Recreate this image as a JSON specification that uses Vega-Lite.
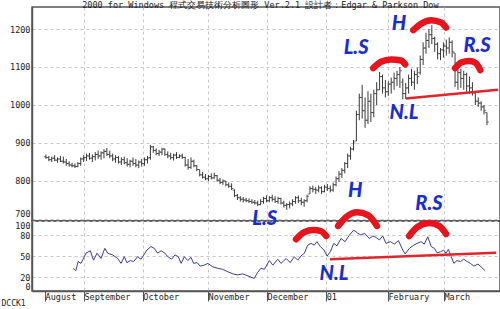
{
"$schema": "https://vega.github.io/schema/vega-lite/v6.json",
"background": "white",
"padding": 0,
"spacing": 0,
"bounds": "flush",
"title": {"text": "2000 for Windows 程式交易技術分析圖形       Ver.2.1    設計者：Edgar & Parkson Dow", "anchor": "start", "frame": "bounds", "dx": 82, "fontSize": 8.5, "font": "DejaVu Sans Mono", "fontWeight": "normal", "color": "#222", "offset": -3},
"config": {"view": {"stroke": "#555", "strokeWidth": 1.5}, "font": "DejaVu Sans Mono", "concat": {"spacing": 0}},
"resolve": {"scale": {"x": "independent", "y": "independent"}},
"datasets": {
"ohlc": [
{"i":0,"o":864,"h":870,"l":858,"c":862},{"i":1,"o":862,"h":866,"l":852,"c":856},{"i":2,"o":856,"h":864,"l":850,"c":860},{"i":3,"o":860,"h":868,"l":852,"c":855},{"i":4,"o":855,"h":862,"l":848,"c":858},
{"i":5,"o":858,"h":866,"l":850,"c":852},{"i":6,"o":852,"h":864,"l":846,"c":850},{"i":7,"o":850,"h":858,"l":840,"c":846},{"i":8,"o":846,"h":852,"l":838,"c":842},{"i":9,"o":842,"h":848,"l":836,"c":840},
{"i":10,"o":840,"h":846,"l":834,"c":838},{"i":11,"o":838,"h":850,"l":836,"c":846},{"i":12,"o":846,"h":862,"l":840,"c":858},{"i":13,"o":858,"h":868,"l":850,"c":862},{"i":14,"o":862,"h":872,"l":852,"c":866},
{"i":15,"o":866,"h":874,"l":856,"c":860},{"i":16,"o":860,"h":870,"l":850,"c":864},{"i":17,"o":864,"h":876,"l":854,"c":870},{"i":18,"o":870,"h":880,"l":858,"c":866},{"i":19,"o":866,"h":878,"l":856,"c":874},
{"i":20,"o":874,"h":884,"l":860,"c":878},{"i":21,"o":878,"h":887,"l":866,"c":870},{"i":22,"o":870,"h":880,"l":860,"c":866},{"i":23,"o":866,"h":872,"l":852,"c":858},{"i":24,"o":858,"h":868,"l":848,"c":862},
{"i":25,"o":862,"h":866,"l":846,"c":850},{"i":26,"o":850,"h":862,"l":842,"c":856},{"i":27,"o":856,"h":864,"l":844,"c":848},{"i":28,"o":848,"h":860,"l":838,"c":844},{"i":29,"o":844,"h":856,"l":836,"c":852},
{"i":30,"o":852,"h":862,"l":840,"c":846},{"i":31,"o":846,"h":858,"l":836,"c":842},{"i":32,"o":842,"h":854,"l":834,"c":850},{"i":33,"o":850,"h":858,"l":838,"c":846},{"i":34,"o":846,"h":862,"l":840,"c":856},
{"i":35,"o":856,"h":866,"l":846,"c":860},{"i":36,"o":862,"h":895,"l":856,"c":890},{"i":37,"o":890,"h":892,"l":874,"c":880},{"i":38,"o":880,"h":886,"l":868,"c":872},{"i":39,"o":872,"h":882,"l":866,"c":876},
{"i":40,"o":876,"h":887,"l":868,"c":884},{"i":41,"o":884,"h":886,"l":866,"c":870},{"i":42,"o":870,"h":878,"l":860,"c":866},{"i":43,"o":866,"h":874,"l":856,"c":862},{"i":44,"o":862,"h":872,"l":854,"c":868},
{"i":45,"o":868,"h":876,"l":858,"c":862},{"i":46,"o":862,"h":870,"l":860,"c":866},{"i":47,"o":866,"h":872,"l":858,"c":862},{"i":48,"o":862,"h":864,"l":838,"c":842},{"i":49,"o":842,"h":858,"l":830,"c":836},
{"i":50,"o":836,"h":862,"l":832,"c":852},{"i":51,"o":852,"h":856,"l":836,"c":840},{"i":52,"o":840,"h":842,"l":826,"c":830},{"i":53,"o":830,"h":830,"l":812,"c":816},{"i":54,"o":816,"h":824,"l":806,"c":810},
{"i":55,"o":810,"h":818,"l":802,"c":806},{"i":56,"o":806,"h":816,"l":800,"c":812},{"i":57,"o":812,"h":820,"l":804,"c":808},{"i":58,"o":808,"h":822,"l":806,"c":814},{"i":59,"o":814,"h":816,"l":798,"c":802},
{"i":60,"o":802,"h":808,"l":792,"c":796},{"i":61,"o":796,"h":804,"l":790,"c":800},{"i":62,"o":800,"h":800,"l":786,"c":790},{"i":63,"o":790,"h":796,"l":782,"c":786},{"i":64,"o":786,"h":794,"l":776,"c":780},
{"i":65,"o":776,"h":778,"l":758,"c":762},{"i":66,"o":762,"h":766,"l":750,"c":756},{"i":67,"o":756,"h":760,"l":746,"c":752},{"i":68,"o":752,"h":758,"l":744,"c":750},{"i":69,"o":750,"h":756,"l":744,"c":748},
{"i":70,"o":748,"h":754,"l":742,"c":746},{"i":71,"o":746,"h":752,"l":740,"c":744},{"i":72,"o":744,"h":750,"l":738,"c":742},{"i":73,"o":742,"h":748,"l":734,"c":738},{"i":74,"o":738,"h":752,"l":736,"c":746},
{"i":75,"o":746,"h":758,"l":740,"c":754},{"i":76,"o":754,"h":762,"l":744,"c":748},{"i":77,"o":748,"h":760,"l":744,"c":756},{"i":78,"o":756,"h":764,"l":746,"c":752},{"i":79,"o":752,"h":760,"l":742,"c":746},
{"i":80,"o":746,"h":758,"l":740,"c":754},{"i":81,"o":754,"h":756,"l":738,"c":742},{"i":82,"o":742,"h":748,"l":730,"c":736},{"i":83,"o":736,"h":742,"l":724,"c":738},{"i":84,"o":738,"h":746,"l":728,"c":740},
{"i":85,"o":740,"h":752,"l":734,"c":746},{"i":86,"o":746,"h":760,"l":740,"c":756},{"i":87,"o":756,"h":762,"l":742,"c":748},{"i":88,"o":748,"h":756,"l":736,"c":744},{"i":89,"o":744,"h":752,"l":732,"c":748},
{"i":90,"o":748,"h":764,"l":744,"c":760},{"i":91,"o":766,"h":786,"l":766,"c":780},{"i":92,"o":780,"h":788,"l":770,"c":778},{"i":93,"o":778,"h":784,"l":766,"c":776},{"i":94,"o":776,"h":788,"l":770,"c":782},
{"i":95,"o":782,"h":786,"l":766,"c":772},{"i":96,"o":772,"h":790,"l":770,"c":784},{"i":97,"o":784,"h":792,"l":774,"c":780},{"i":98,"o":780,"h":788,"l":770,"c":776},{"i":99,"o":776,"h":796,"l":772,"c":790},
{"i":100,"o":790,"h":812,"l":786,"c":806},{"i":101,"o":806,"h":826,"l":798,"c":818},{"i":102,"o":818,"h":834,"l":808,"c":828},{"i":103,"o":828,"h":850,"l":820,"c":846},{"i":104,"o":846,"h":872,"l":834,"c":866},
{"i":105,"o":866,"h":890,"l":856,"c":884},{"i":106,"o":884,"h":908,"l":880,"c":900},{"i":107,"o":905,"h":985,"l":905,"c":975},{"i":108,"o":975,"h":1030,"l":960,"c":1020},{"i":109,"o":1020,"h":1053,"l":964,"c":985},
{"i":110,"o":985,"h":1020,"l":940,"c":960},{"i":111,"o":960,"h":1036,"l":950,"c":1010},{"i":112,"o":1010,"h":1030,"l":955,"c":980},{"i":113,"o":980,"h":1040,"l":968,"c":1030},{"i":114,"o":1030,"h":1060,"l":1000,"c":1040},
{"i":115,"o":1040,"h":1087,"l":1040,"c":1075},{"i":116,"o":1075,"h":1080,"l":1030,"c":1045},{"i":117,"o":1045,"h":1066,"l":1020,"c":1035},{"i":118,"o":1035,"h":1062,"l":1024,"c":1055},{"i":119,"o":1055,"h":1072,"l":1030,"c":1060},
{"i":120,"o":1060,"h":1085,"l":1040,"c":1070},{"i":121,"o":1070,"h":1090,"l":1050,"c":1080},{"i":122,"o":1080,"h":1100,"l":1045,"c":1090},{"i":123,"o":1060,"h":1070,"l":1015,"c":1030},{"i":124,"o":1030,"h":1058,"l":1016,"c":1045},
{"i":125,"o":1045,"h":1080,"l":1030,"c":1070},{"i":126,"o":1070,"h":1095,"l":1050,"c":1060},{"i":127,"o":1060,"h":1090,"l":1040,"c":1080},{"i":128,"o":1080,"h":1098,"l":1055,"c":1075},{"i":129,"o":1085,"h":1130,"l":1080,"c":1120},
{"i":130,"o":1120,"h":1165,"l":1105,"c":1150},{"i":131,"o":1150,"h":1190,"l":1135,"c":1170},{"i":132,"o":1170,"h":1200,"l":1150,"c":1185},{"i":133,"o":1185,"h":1210,"l":1160,"c":1175},{"i":134,"o":1175,"h":1180,"l":1140,"c":1160},
{"i":135,"o":1160,"h":1165,"l":1120,"c":1135},{"i":136,"o":1135,"h":1150,"l":1118,"c":1145},{"i":137,"o":1145,"h":1165,"l":1125,"c":1155},{"i":138,"o":1155,"h":1172,"l":1130,"c":1150},{"i":139,"o":1150,"h":1178,"l":1135,"c":1165},
{"i":140,"o":1165,"h":1170,"l":1125,"c":1140},{"i":141,"o":1137,"h":1137,"l":1047,"c":1060},{"i":142,"o":1060,"h":1097,"l":1040,"c":1085},{"i":143,"o":1085,"h":1095,"l":1045,"c":1070},{"i":144,"o":1070,"h":1090,"l":1040,"c":1080},
{"i":145,"o":1080,"h":1085,"l":1035,"c":1050},{"i":146,"o":1050,"h":1075,"l":1030,"c":1045},{"i":147,"o":1045,"h":1060,"l":1025,"c":1035},{"i":148,"o":1031,"h":1031,"l":1000,"c":1010},{"i":149,"o":1010,"h":1020,"l":995,"c":1005},
{"i":150,"o":1005,"h":1010,"l":985,"c":995},{"i":151,"o":995,"h":1000,"l":975,"c":985},{"i":152,"o":980,"h":980,"l":947,"c":955}
],
"ind": [
{"i":9.4,"v":32},{"i":10.3,"v":29},{"i":11.1,"v":42},{"i":12.1,"v":39.5},{"i":13.8,"v":54},{"i":15.3,"v":57.5},{"i":16.4,"v":44},{"i":17.6,"v":54},{"i":19.0,"v":46.5},{"i":20.3,"v":61},
{"i":21.3,"v":54},{"i":23.0,"v":51.5},{"i":24.7,"v":46.5},{"i":25.9,"v":39.5},{"i":27.0,"v":49},{"i":27.9,"v":40.5},{"i":29.1,"v":43.5},{"i":30.2,"v":42},{"i":31.6,"v":49},{"i":32.8,"v":45.5},
{"i":34.8,"v":58.5},{"i":36.2,"v":63.5},{"i":37.3,"v":61},{"i":38.5,"v":54},{"i":39.7,"v":57.5},{"i":41.0,"v":54},{"i":42.0,"v":49},{"i":43.3,"v":45.5},{"i":44.5,"v":51.5},{"i":45.6,"v":49},
{"i":46.6,"v":39.5},{"i":47.7,"v":49},{"i":48.9,"v":43.5},{"i":50.0,"v":48},{"i":50.9,"v":39.5},{"i":52.1,"v":40.5},{"i":53.2,"v":35.5},{"i":54.6,"v":37},{"i":55.8,"v":39.5},{"i":57.5,"v":34.5},
{"i":59.2,"v":32.5},{"i":60.9,"v":31},{"i":62.7,"v":27.5},{"i":64.4,"v":24.5},{"i":66.1,"v":23},{"i":67.8,"v":24.5},{"i":69.6,"v":21.5},{"i":71.8,"v":18},{"i":72.8,"v":25.5},{"i":74.1,"v":32.5},
{"i":75.3,"v":31},{"i":77.0,"v":43.5},{"i":78.2,"v":37},{"i":79.9,"v":45.5},{"i":81.0,"v":39.5},{"i":82.8,"v":46.5},{"i":84.2,"v":40.5},{"i":85.6,"v":49},{"i":86.8,"v":44},{"i":87.9,"v":50},
{"i":89.1,"v":54},{"i":90.2,"v":65.5},{"i":91.4,"v":68},{"i":92.5,"v":65.5},{"i":93.4,"v":70.5},{"i":94.6,"v":63.5},{"i":95.8,"v":58.5},{"i":96.9,"v":50},{"i":98.0,"v":56},{"i":99.2,"v":68},
{"i":100.3,"v":64.5},{"i":101.7,"v":75},{"i":103.1,"v":70.5},{"i":104.6,"v":80},{"i":106.1,"v":87},{"i":107.5,"v":82.5},{"i":108.6,"v":80},{"i":109.8,"v":82.5},{"i":111.5,"v":75},{"i":112.7,"v":78.5},
{"i":113.8,"v":76.5},{"i":114.9,"v":73},{"i":116.1,"v":78.5},{"i":117.2,"v":68},{"i":118.7,"v":70.5},{"i":120.1,"v":67},{"i":121.5,"v":72},{"i":123.0,"v":58.5},{"i":123.8,"v":53},{"i":125.3,"v":61},
{"i":126.8,"v":65.5},{"i":127.9,"v":68},{"i":129.3,"v":70.5},{"i":130.4,"v":67},{"i":131.6,"v":77.5},{"i":132.8,"v":63.5},{"i":133.9,"v":61},{"i":134.8,"v":54.5},{"i":136.0,"v":56},{"i":137.1,"v":58.5},
{"i":137.9,"v":54},{"i":138.7,"v":59.5},{"i":139.7,"v":49},{"i":140.6,"v":39.5},{"i":141.7,"v":43.5},{"i":142.9,"v":42},{"i":144.0,"v":45.5},{"i":145.2,"v":42},{"i":146.3,"v":39.5},{"i":147.5,"v":35.5},
{"i":148.9,"v":38.5},{"i":150.0,"v":34.5},{"i":151.4,"v":29}
],
"arcsTop": [
{"id":"LS","i":112.8,"v":1097},{"id":"LS","i":115.5,"v":1114},{"id":"LS","i":119.0,"v":1120},{"id":"LS","i":122.4,"v":1117},{"id":"LS","i":123.8,"v":1107},
{"id":"H","i":126.6,"v":1197},{"id":"H","i":129.3,"v":1214},{"id":"H","i":132.8,"v":1223},{"id":"H","i":136.2,"v":1217},{"id":"H","i":137.9,"v":1204},
{"id":"RS","i":141.0,"v":1097},{"id":"RS","i":143.1,"v":1112},{"id":"RS","i":145.9,"v":1116},{"id":"RS","i":148.0,"v":1111},{"id":"RS","i":149.7,"v":1092}
],
"neckTop": [{"i":124.1,"v":1017},{"i":155.8,"v":1040}],
"arcsBottom": [
{"id":"LS","i":86.2,"v":74},{"id":"LS","i":89.0,"v":84},{"id":"LS","i":92.1,"v":87},{"id":"LS","i":94.8,"v":85.5},{"id":"LS","i":96.6,"v":78.5},
{"id":"H","i":100.7,"v":93},{"id":"H","i":103.4,"v":105.5},{"id":"H","i":107.2,"v":112.5},{"id":"H","i":111.0,"v":108.5},{"id":"H","i":114.1,"v":93},
{"id":"RS","i":125.2,"v":78.5},{"id":"RS","i":127.9,"v":91},{"id":"RS","i":132.1,"v":97},{"id":"RS","i":135.5,"v":93},{"id":"RS","i":137.9,"v":81.5}
],
"neckBottom": [{"i":97.9,"v":45.5},{"i":155.2,"v":54.5}],
"labelsTop": [
{"label":"L.S","i":106.9,"v":1150},{"label":"H","i":121.7,"v":1213},{"label":"R.S","i":148.6,"v":1155},{"label":"N.L","i":123.4,"v":979},
{"label":"H","i":106.6,"v":774},{"label":"R.S","i":132,"v":739}
],
"labelsBottom": [
{"label":"L.S","i":75.4,"v":103},{"label":"N.L","i":99.3,"v":24}
]
},
"vconcat": [
{
"width": 468, "height": 214,
"encoding": {
"x": {"field": "i", "type": "quantitative", "scale": {"domain": [-4.8, 156.5], "nice": false, "zero": false},
 "axis": {"values": [13.1, 33.4, 55.9, 76.2, 96.6, 117.9, 137.2], "labels": false, "ticks": false, "domain": false, "grid": true, "gridColor": "#c8c8c8", "gridDash": [3, 3], "title": null, "minExtent": 0, "maxExtent": 0}}
},
"layer": [
{"data": {"name": "ohlc"}, "mark": {"type": "rule", "color": "#222", "strokeWidth": 0.9},
 "encoding": {"y": {"field": "l", "type": "quantitative", "scale": {"domain": [694.7, 1257.9], "nice": false, "zero": false},
   "axis": {"values": [700, 750, 800, 850, 900, 950, 1000, 1050, 1100, 1150, 1200], "format": "d", "title": null, "grid": true, "gridColor": "#c8c8c8", "gridDash": [3, 3], "ticks": false, "labelPadding": 2, "labelOverlap": false, "labelBaseline": {"condition": {"test": "datum.value == 700", "value": "bottom"}, "value": "middle"}, "labelFontSize": 8.5, "labelFont": "DejaVu Sans Mono", "labelColor": "#222", "domainColor": "#555", "domainWidth": 1.5, "minExtent": 31, "maxExtent": 31}},
  "y2": {"field": "h"}}},
{"data": {"name": "ohlc"}, "mark": {"type": "tick", "orient": "horizontal", "size": 2, "thickness": 0.9, "color": "#222", "xOffset": -1},
 "encoding": {"y": {"field": "o", "type": "quantitative"}}},
{"data": {"name": "ohlc"}, "mark": {"type": "tick", "orient": "horizontal", "size": 2, "thickness": 0.9, "color": "#222", "xOffset": 1},
 "encoding": {"y": {"field": "c", "type": "quantitative"}}},
{"data": {"name": "neckTop"}, "mark": {"type": "line", "color": "#e0252b", "strokeWidth": 2.5},
 "encoding": {"y": {"field": "v", "type": "quantitative"}}},
{"data": {"name": "arcsTop"}, "mark": {"type": "line", "color": "#e8141b", "strokeWidth": 6.5, "strokeCap": "round", "interpolate": "monotone"},
 "encoding": {"y": {"field": "v", "type": "quantitative"}, "detail": {"field": "id"}}},
{"data": {"name": "labelsTop"}, "mark": {"type": "text", "color": "#1a2ed0", "font": "Lato", "fontWeight": 900, "fontStyle": "italic", "fontSize": 20},
 "encoding": {"y": {"field": "v", "type": "quantitative"}, "text": {"field": "label"}}}
]
},
{
"width": 468, "height": 70,
"encoding": {
"x": {"field": "i", "type": "quantitative", "scale": {"domain": [-4.8, 156.5], "nice": false, "zero": false},
 "axis": {"values": [-0.3, 13.1, 33.4, 55.9, 76.2, 96.6, 117.9, 137.2],
  "labelExpr": "datum.value < 5 ? 'August' : datum.value < 20 ? 'September' : datum.value < 40 ? 'October' : datum.value < 60 ? 'November' : datum.value < 80 ? 'December' : datum.value < 100 ? '01' : datum.value < 120 ? 'February' : 'March'",
  "grid": true, "gridColor": {"condition": {"test": "datum.value < 5", "value": "transparent"}, "value": "#c8c8c8"}, "gridDash": [3, 3],
  "tickSize": 10, "tickColor": "#555", "labelAlign": "left", "labelBaseline": "top", "labelPadding": -9, "labelDx": 2, "labelOverlap": false, "labelFlush": false, "labelBound": false,
  "labelFontSize": 8.5, "labelFont": "DejaVu Sans Mono", "labelColor": "#222", "domainColor": "#555", "domainWidth": 1.5,
  "title": "DCCK1", "titleX": -31, "titleY": 8, "titleAlign": "left", "titleBaseline": "top", "titleFontSize": 8, "titleFont": "DejaVu Sans Mono", "titleFontWeight": "normal", "titleColor": "#222"}},
"y": {"field": "v", "type": "quantitative", "scale": {"domain": [0, 100], "nice": false, "zero": false},
 "axis": {"values": [0, 20, 50, 80, 100], "title": null, "grid": true, "gridColor": "#c8c8c8", "gridDash": [3, 3], "ticks": false, "labelPadding": 2, "labelOverlap": false, "labelBaseline": {"condition": [{"test": "datum.value == 100", "value": "top"}, {"test": "datum.value == 0", "value": "bottom"}], "value": "middle"}, "labelFontSize": 8.5, "labelFont": "DejaVu Sans Mono", "labelColor": "#222", "domainColor": "#555", "domainWidth": 1.5, "minExtent": 31, "maxExtent": 31}}
},
"layer": [
{"data": {"name": "ind"}, "mark": {"type": "line", "color": "#3b3b9e", "strokeWidth": 1}},
{"data": {"name": "neckBottom"}, "mark": {"type": "line", "color": "#e0252b", "strokeWidth": 2.5}},
{"data": {"name": "arcsBottom"}, "mark": {"type": "line", "color": "#e8141b", "strokeWidth": 6.5, "strokeCap": "round", "interpolate": "monotone"},
 "encoding": {"detail": {"field": "id"}}},
{"data": {"name": "labelsBottom"}, "mark": {"type": "text", "color": "#1a2ed0", "font": "Lato", "fontWeight": 900, "fontStyle": "italic", "fontSize": 20},
 "encoding": {"text": {"field": "label"}}}
]
}
]
}
